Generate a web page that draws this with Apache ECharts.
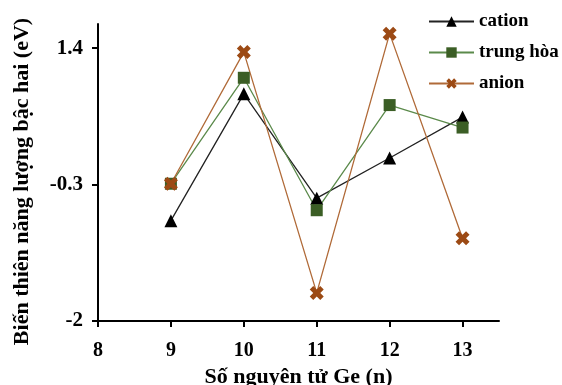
<!DOCTYPE html>
<html>
<head>
<meta charset="utf-8">
<script src="https://cdn.jsdelivr.net/npm/echarts@6/dist/echarts.min.js"></script>
<style>
  html, body { margin: 0; padding: 0; background: #fff; }
  #main { width: 562px; height: 385px; }
</style>
</head>
<body>
<div id="main"></div>
<script>
// so nguyen tu Ge (n)
const nValues = [9, 10, 11, 12, 13];
const cation = [-0.75, 0.83, -0.47, 0.03, 0.54];
const trungHoa = [-0.29, 1.03, -0.62, 0.69, 0.41];
const anion = [-0.29, 1.35, -1.65, 1.58, -0.97];
const xTicks = [8, 9, 10, 11, 12, 13];
const yTicks = [-2, -0.3, 1.4];

const crossPath = 'path://M2.5,0 L5,2.5 L7.5,0 L10,2.5 L7.5,5 L10,7.5 L7.5,10 L5,7.5 L2.5,10 L0,7.5 L2.5,5 L0,2.5 Z';
const font = 'Liberation Serif';

function pairs(arr) {
  return nValues.map(function (n, i) { return [n, arr[i]]; });
}

const chart = echarts.init(document.getElementById('main'));
const option = {
  backgroundColor: '#ffffff',
  animation: false,
  grid: { left: 98, right: 63, top: 24, bottom: 64, outerBoundsMode: 'none', containLabel: false },
  legend: {
    orient: 'vertical',
    left: 423,
    top: 7,
    itemWidth: 45,
    itemHeight: 13,
    itemGap: 12,
    textStyle: { fontFamily: font, fontWeight: 'bold', fontSize: 19, color: '#000' },
    data: ['cation', 'trung hòa', 'anion']
  },
  xAxis: {
    type: 'value',
    min: 8,
    max: 13.5,
    interval: 1,
    name: 'Số nguyên tử Ge (n)',
    nameLocation: 'middle',
    nameGap: 45,
    nameTextStyle: { fontFamily: font, fontWeight: 'bold', fontSize: 22, color: '#000' },
    splitLine: { show: false },
    axisLine: { onZero: false, lineStyle: { color: '#000', width: 2 } },
    axisTick: { length: 6, lineStyle: { width: 2 }, customValues: xTicks },
    axisLabel: { customValues: xTicks, margin: 20, fontFamily: font, fontWeight: 'bold', fontSize: 20, color: '#000' }
  },
  yAxis: {
    type: 'value',
    min: -2,
    max: 1.7,
    name: 'Biến thiên năng lượng bậc hai (eV)',
    nameLocation: 'middle',
    nameGap: 65,
    nameTextStyle: { fontFamily: font, fontWeight: 'bold', fontSize: 22, color: '#000', padding: [0, 18, 0, 0] },
    splitLine: { show: false },
    axisLine: { show: true, onZero: false, lineStyle: { color: '#000', width: 2 } },
    axisTick: { show: true, length: 6, lineStyle: { width: 2 }, customValues: yTicks },
    axisLabel: { customValues: yTicks, margin: 15, fontFamily: font, fontWeight: 'bold', fontSize: 21, color: '#000' }
  },
  series: [
    {
      name: 'cation',
      type: 'line',
      data: pairs(cation),
      symbol: 'triangle',
      symbolSize: 13,
      lineStyle: { color: '#222', width: 1.3 },
      itemStyle: { color: '#000' }
    },
    {
      name: 'trung hòa',
      type: 'line',
      data: pairs(trungHoa),
      symbol: 'rect',
      symbolSize: 12,
      lineStyle: { color: '#5b8a4b', width: 1.3 },
      itemStyle: { color: '#3b5e25' }
    },
    {
      name: 'anion',
      type: 'line',
      data: pairs(anion),
      symbol: crossPath,
      symbolSize: 14,
      lineStyle: { color: '#b06a38', width: 1.3 },
      itemStyle: { color: '#9c4a14' }
    }
  ]
};
chart.setOption(option);
</script>
</body>
</html>
